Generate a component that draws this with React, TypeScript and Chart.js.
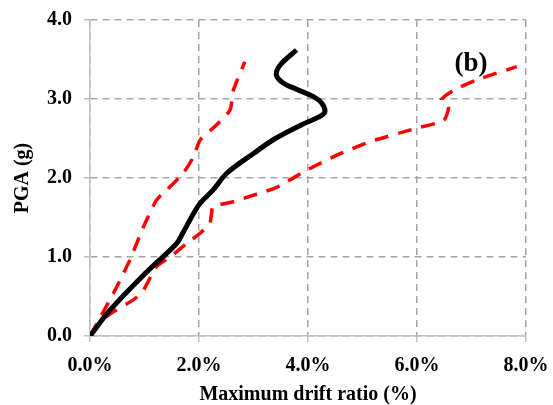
import React, { useEffect, useRef } from "react";
import { Chart, registerables } from "chart.js";

Chart.register(...registerables);

// Maximum drift ratio (%) vs PGA (g)
const blackX = [0, 0.37, 0.98, 1.59, 1.70, 1.90, 2.02, 2.26, 2.51, 3.0, 3.4, 3.9, 4.22, 4.31, 4.25, 4.10, 3.80, 3.55, 3.42, 3.49, 3.79];
const blackY = [0, 0.33, 0.77, 1.17, 1.30, 1.55, 1.68, 1.85, 2.06, 2.31, 2.50, 2.68, 2.78, 2.84, 2.95, 3.03, 3.12, 3.20, 3.30, 3.43, 3.62];

const redLeftX = [0, 0.12, 0.49, 0.73, 0.98, 1.22, 1.41, 1.71, 1.90, 2.02, 2.32, 2.57, 2.63, 2.84];
const redLeftY = [0, 0.15, 0.62, 0.96, 1.38, 1.72, 1.85, 2.06, 2.27, 2.48, 2.67, 2.86, 3.11, 3.47];

const redRightX = [0, 0.31, 0.80, 0.98, 1.22, 1.47, 1.77, 2.02, 2.20, 2.23, 2.26, 2.63, 3.12, 3.42, 3.98, 4.53, 5.14, 5.99, 6.49, 6.58, 6.45, 6.67, 7.09, 7.83];
const redRightY = [0, 0.25, 0.46, 0.58, 0.88, 1.00, 1.17, 1.30, 1.43, 1.55, 1.64, 1.70, 1.81, 1.88, 2.10, 2.29, 2.46, 2.63, 2.73, 2.90, 2.99, 3.11, 3.24, 3.41];

const xTicks = [0, 2, 4, 6, 8];
const yTicks = [0, 1, 2, 3, 4];
const xTitle = "Maximum drift ratio (%)";
const yTitle = "PGA (g)";
const panelLabel = "(b)";
const panelLabelAt = [6.99, 3.44];

const zip = (xs: number[], ys: number[]) => xs.map((x, i) => ({ x, y: ys[i] }));

const FONT = '"Liberation Serif", "Times New Roman", serif';

export default function App() {
  const ref = useRef<HTMLCanvasElement>(null);
  useEffect(() => {
    if (!ref.current) return;
    const labelPlugin = {
      id: "panelLabel",
      afterDraw(chart: any) {
        const { ctx, scales } = chart;
        ctx.save();
        ctx.font = `bold 27px ${FONT}`;
        ctx.fillStyle = "#000";
        ctx.textAlign = "center";
        ctx.textBaseline = "middle";
        ctx.fillText(panelLabel, scales.x.getPixelForValue(panelLabelAt[0]), scales.y.getPixelForValue(panelLabelAt[1]));
        ctx.restore();
      },
    };
    const gridOpts = {
      color: "#a6a6a6",
      lineWidth: 1.5,
      tickLength: 6,
      tickColor: "#bfbfbf",
      tickWidth: 1.5,
      tickBorderDash: [],
    };
    const borderOpts = { display: true, color: "#bfbfbf", width: 1.5, dash: [7, 5] };
    const chart = new Chart(ref.current, {
      type: "line",
      data: {
        datasets: [
          {
            data: zip(blackX, blackY),
            borderColor: "#000000",
            borderWidth: 5,
            pointRadius: 0,
            tension: 0.35,
            fill: false,
          },
          {
            data: zip(redLeftX, redLeftY),
            borderColor: "#ff0000",
            borderWidth: 3.5,
            borderDash: [14, 10],
            pointRadius: 0,
            tension: 0.2,
            fill: false,
          },
          {
            data: zip(redRightX, redRightY),
            borderColor: "#ff0000",
            borderWidth: 3.5,
            borderDash: [14, 10],
            pointRadius: 0,
            tension: 0.2,
            fill: false,
          },
        ],
      },
      options: {
        animation: false,
        responsive: false,
        plugins: { legend: { display: false }, tooltip: { enabled: false } },
        layout: { padding: { left: 0, right: 27, top: 20, bottom: 0 } },
        scales: {
          x: {
            type: "linear",
            min: 0,
            max: 8,
            afterFit: (s: any) => {
              s.height = 69;
              s.paddingLeft = 0;
              s.paddingRight = 0;
            },
            afterBuildTicks: (s: any) => { s.ticks = xTicks.map((v) => ({ value: v })); },
            ticks: {
              callback: (v: any) => Number(v).toFixed(1) + "%",
              font: { family: FONT, size: 20, weight: "bold" },
              color: "#000",
              padding: 12,
              maxRotation: 0,
            },
            grid: gridOpts,
            border: borderOpts,
            title: {
              display: true,
              text: xTitle,
              font: { family: FONT, size: 20, weight: "bold" },
              color: "#000",
              padding: { top: 0, bottom: -2 },
            },
          },
          y: {
            type: "linear",
            min: 0,
            max: 4,
            afterFit: (s: any) => {
              s.width = 90;
              s.paddingTop = 0;
              s.paddingBottom = 0;
            },
            afterBuildTicks: (s: any) => { s.ticks = yTicks.map((v) => ({ value: v })); },
            ticks: {
              callback: (v: any) => Number(v).toFixed(1),
              font: { family: FONT, size: 20, weight: "bold" },
              color: "#000",
              padding: 12,
            },
            grid: gridOpts,
            border: borderOpts,
            title: {
              display: true,
              text: yTitle,
              font: { family: FONT, size: 20, weight: "bold" },
              color: "#000",
              padding: { top: 11, bottom: 4 },
            },
          },
        },
      },
      plugins: [labelPlugin],
    } as any);
    return () => chart.destroy();
  }, []);
  return (
    <div style={{ position: "fixed", left: 0, top: 0, width: 553, height: 405, background: "#fff" }}>
      <canvas ref={ref} width={553} height={405} />
    </div>
  );
}
